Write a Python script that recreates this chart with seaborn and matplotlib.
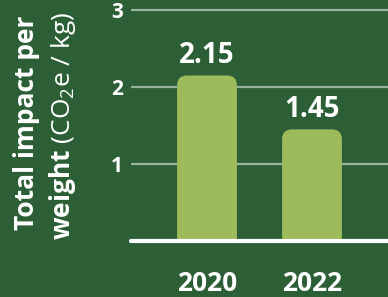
import matplotlib
matplotlib.use("Agg")
import matplotlib.pyplot as plt
import seaborn as sns
import pandas as pd
from matplotlib.patches import FancyBboxPatch

years = ["2020", "2022"]
values = [2.15, 1.45]
value_labels = ["2.15", "1.45"]
yticks = [1, 2, 3]
ylabel_line1 = "Total impact per"
ylabel_line2 = r"$\mathbf{weight}$ (CO$_{2}$e / kg)"

BG = "#2D5F36"
BAR = "#9DBB5A"
GRID = "#98B39B"

sns.set_theme(style="white")
plt.rcParams["font.family"] = ["Open Sans", "DejaVu Sans"]
plt.rcParams["mathtext.fontset"] = "custom"
plt.rcParams["mathtext.rm"] = "Open Sans"
plt.rcParams["mathtext.bf"] = "Open Sans:bold"
plt.rcParams["mathtext.it"] = "Open Sans"

fig = plt.figure(figsize=(3.88, 2.97), dpi=100, facecolor=BG)
ax = fig.add_axes([131/388, 56/297, 1 - 131/388, 241/297])
ax.set_facecolor(BG)

df = pd.DataFrame({"year": years, "value": values})
sns.barplot(data=df, x="year", y="value", color=BAR, width=0.57, ax=ax,
            saturation=1, zorder=3)

ax.set_ylim(0, 3.13)
ax.set_xlim(-0.724, 1.724)

ppu_y = 241 / 3.13
for p in list(ax.patches):
    x0, w, h = p.get_x(), p.get_width(), p.get_height()
    p.set_visible(False)
    r = 0.095
    aspect = (105 / ppu_y)
    fb = FancyBboxPatch((x0 + r, -0.5), w - 2 * r, h + 0.5 - r * aspect,
                        boxstyle=f"round,pad={r}", mutation_aspect=aspect,
                        facecolor=BAR, edgecolor="none", zorder=3)
    ax.add_patch(fb)

for i, (v, lab) in enumerate(zip(values, value_labels)):
    ax.annotate(lab, (i, v), xytext=(0, 4), textcoords="offset points",
                ha="center", va="bottom", color="white", fontsize=20,
                fontweight="bold")

ax.set_yticks(yticks)
ax.set_yticklabels([str(t) for t in yticks], fontsize=15, fontweight="bold",
                   color="white")
ax.tick_params(axis="y", length=0, pad=6)
ax.tick_params(axis="x", length=0, pad=21, labelsize=19, labelcolor="white")
for t in ax.get_xticklabels():
    t.set_fontweight("bold")
ax.set_xlabel("")
ax.set_ylabel("")

for y in yticks:
    ax.axhline(y, color=GRID, lw=1.6, zorder=1)

for s in ["top", "right", "left"]:
    ax.spines[s].set_visible(False)
ax.spines["bottom"].set_color("white")
ax.spines["bottom"].set_linewidth(3)
ax.spines["bottom"].set_zorder(5)
ax.spines["bottom"].set_capstyle("round")

fig.text(27/388, 1 - 123/297, ylabel_line1, rotation=90, ha="center",
         va="center", color="white", fontsize=19, fontweight="bold")
fig.text(63/388, 1 - 126/297, ylabel_line2, rotation=90, ha="center",
         va="center", color="white", fontsize=19)

fig.savefig("out.png", dpi=100, facecolor=BG)
